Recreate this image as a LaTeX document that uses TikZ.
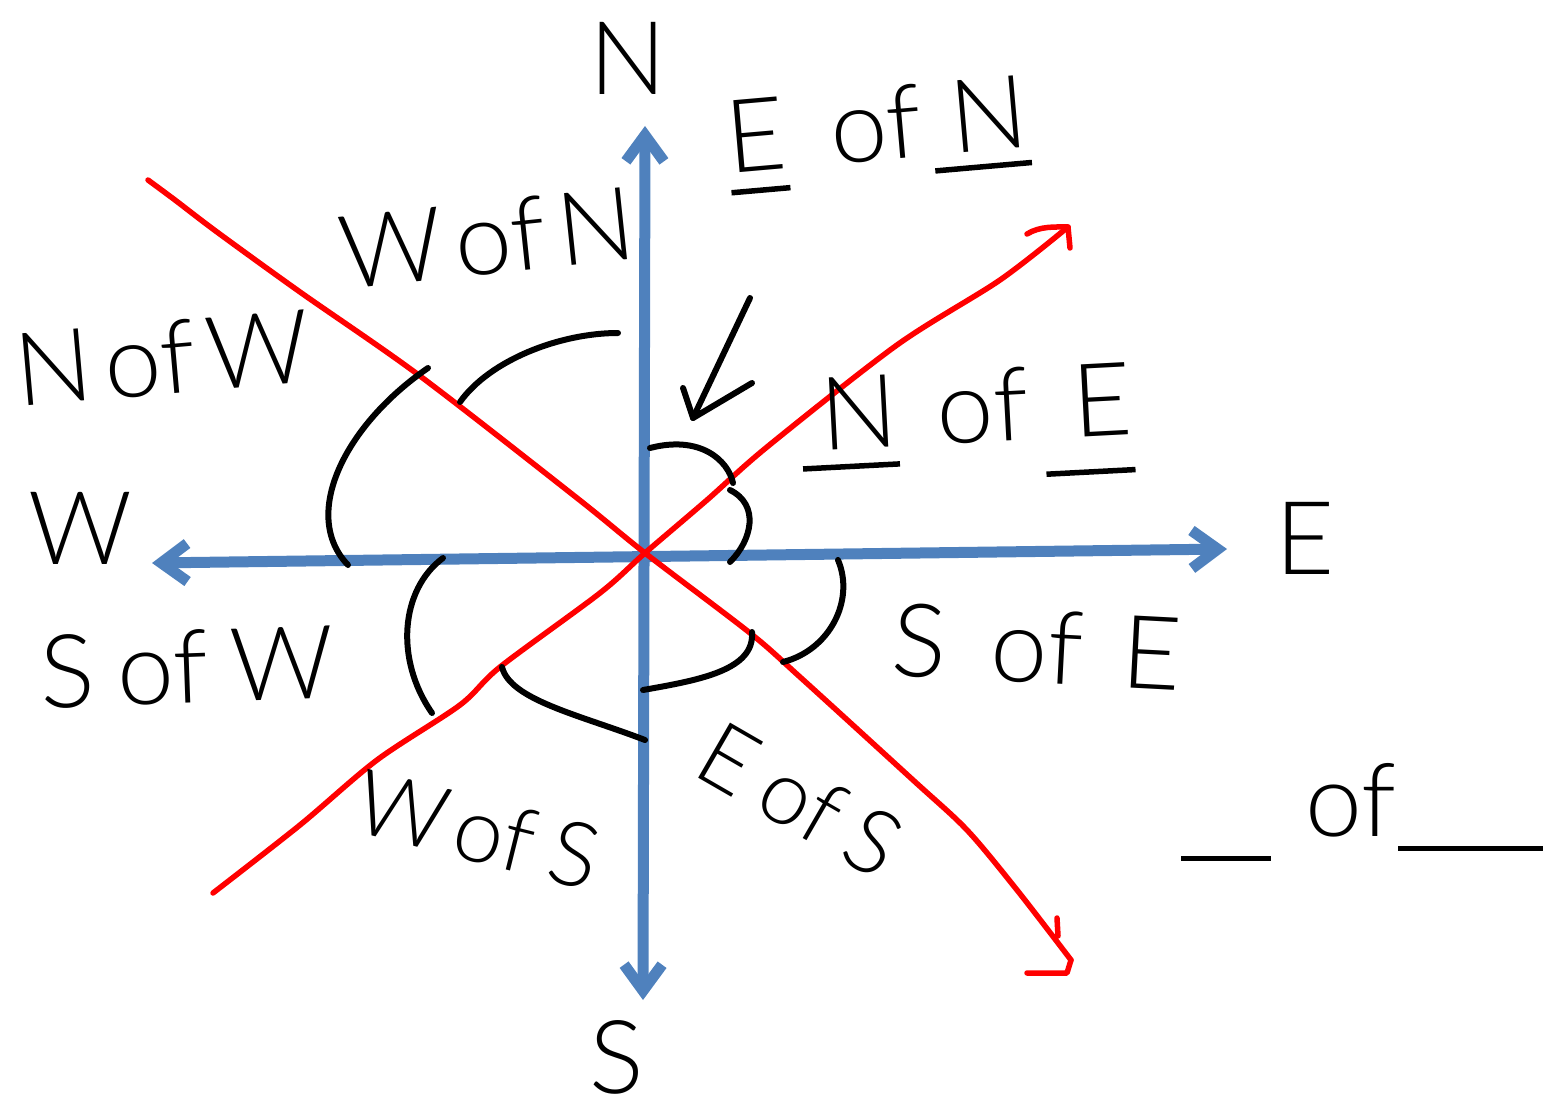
\documentclass[tikz,border=0pt]{standalone}
\usepackage{fontspec}
\IfFontExistsTF{Lato Light}{\setmainfont{Lato Light}}{%
 \IfFontExistsTF{Open Sans Light}{\setmainfont{Open Sans Light}}{%
  \IfFontExistsTF{Fira Sans Light}{\setmainfont{Fira Sans Light}}{%
   \IfFontExistsTF{DejaVu Sans ExtraLight}{\setmainfont{DejaVu Sans ExtraLight}}{\setmainfont{Fira Sans}}}}}
\usetikzlibrary{arrows.meta}
\definecolor{axisblue}{RGB}{79,129,189}
\definecolor{inkred}{RGB}{255,0,0}
\newcommand{\ulword}[3]{\setbox0=\hbox{#1}\makebox[0pt][l]{\hspace{-#2}\raisebox{-#3}{\rule{\dimexpr\wd0+#2\relax}{5.5pt}}}\box0}
\newcommand{\blankline}[2]{\raisebox{-#2}{\rule{#1}{5.5pt}}}
\newcommand{\gap}[1]{\hspace{#1}}
\tikzset{
  axis/.style={draw=axisblue, line width=11pt, line cap=round, line join=round,
    {Straight Barb[length=26pt,width=38pt]}-{Straight Barb[length=26pt,width=38pt]}},
  redline/.style={draw=inkred, line width=5.5pt, line cap=round, line join=round},
  ink/.style={draw=black, line width=6pt, line cap=round, line join=round},
  lbl/.style={inner sep=0pt, font=\fontsize{102}{112}\selectfont},
  lblsmall/.style={inner sep=0pt, font=\fontsize{90}{100}\selectfont},
}
\begin{document}
\begin{tikzpicture}[x=1pt,y=-1pt]
\useasboundingbox (0,0) rectangle (1548,1105);
% axes
\coordinate (Ntip) at (645,126);
\coordinate (Stip) at (643,1000);
\coordinate (Wtip) at (152,563);
\coordinate (Etip) at (1227,549);
\coordinate (O) at (645,553);
\draw[axis] (Stip) -- (Ntip);
\draw[axis] (Wtip) -- (Etip);
% red lines
\coordinate (R1a) at (148,180);
\coordinate (R1b) at (1071,960);
\coordinate (R2a) at (213,893);
\coordinate (R2b) at (1068,227);
\draw[redline] plot[smooth, tension=0.5] coordinates {(R1a) (175,200) (217,232) (300,292) (420,376) (577,498) (O) (750,633) (800,677) (913,780) (967,830) (1017,890) (R1b)};
\draw[redline] plot[smooth, tension=0.5] coordinates {(R2a) (300,825) (377,760) (460,705) (500,667) (600,593) (O) (707,500) (767,447) (897,345) (1000,280) (R2b)};
% red arrow heads
\coordinate (H1l) at (1027,973);
\coordinate (H1c) at (1067,973);
\coordinate (H1s) at (1057,918);
\coordinate (H1t) at (1058,936);
\draw[redline] (H1l) -- (H1c) -- (R1b);
\draw[redline] (H1s) -- (H1t);
\coordinate (H2l) at (1027,234);
\coordinate (H2d) at (1070,248);
\draw[redline] (H2l) .. controls (1040,226) and (1055,227) .. (R2b) -- (H2d);
% black arcs
\draw[ink] (618,333) .. controls (560,333) and (490,360) .. (460,402);
\draw[ink] (428,368) .. controls (345,425) and (300,515) .. (348,565);
\draw[ink] (443,558) .. controls (400,590) and (395,660) .. (432,713);
\draw[ink] (502,667) .. controls (510,700) and (580,715) .. (645,740);
\draw[ink] (643,690) .. controls (700,680) and (755,670) .. (752,632);
\draw[ink] (783,662) .. controls (830,650) and (855,600) .. (838,560);
\draw[ink] (730,562) .. controls (752,540) and (760,505) .. (730,490);
\draw[ink] (650,448) .. controls (700,435) and (728,460) .. (733,483);
% small pointer arrow
\coordinate (Pa) at (750,298);
\coordinate (Pt) at (693,418);
\coordinate (Pw1) at (683,388);
\coordinate (Pw2) at (752,383);
\draw[ink] (Pa) -- (Pt);
\draw[ink] (Pw1) -- (Pt) -- (Pw2);
% labels
\node[lbl] (lN) at (628,58) {N};
\node[lbl] (lS) at (617,1057) {S};
\node[lbl] (lW) at (80,528) {W};
\node[lbl] (lE) at (1305,538) {E};
\node[lbl, rotate=5] (lEofN) at (878,135) {\ulword{E}{0pt}{22pt}\gap{45pt}of\gap{30pt}\ulword{N}{20pt}{18pt}};
\node[lbl, rotate=6] (lWofN) at (487,238) {W\gap{12pt}of\gap{12pt}N};
\node[lbl, rotate=5] (lNofW) at (163,358) {N\gap{12pt}of\gap{12pt}W};
\node[lbl, rotate=2] (lSofW) at (187,667) {S\gap{22pt}of\gap{22pt}W};
\node[lblsmall, rotate=-14] (lWofS) at (478,830) {W\gap{10pt}of\gap{18pt}S};
\node[lblsmall, rotate=-30] (lEofS) at (800,800) {E\gap{18pt}of\gap{18pt}S};
\node[lbl, rotate=-3] (lSofE) at (1037,647) {S\gap{45pt}of\gap{40pt}E};
\node[lbl, rotate=3] (lNofE) at (977,425) {\ulword{N}{20pt}{20pt}\gap{40pt}of\gap{45pt}\ulword{E}{30pt}{38pt}};
\node[lbl] (lBlank) at (1362,812) {\blankline{90pt}{25pt}\gap{35pt}of\gap{2pt}\blankline{145pt}{15pt}};
\end{tikzpicture}
\end{document}
